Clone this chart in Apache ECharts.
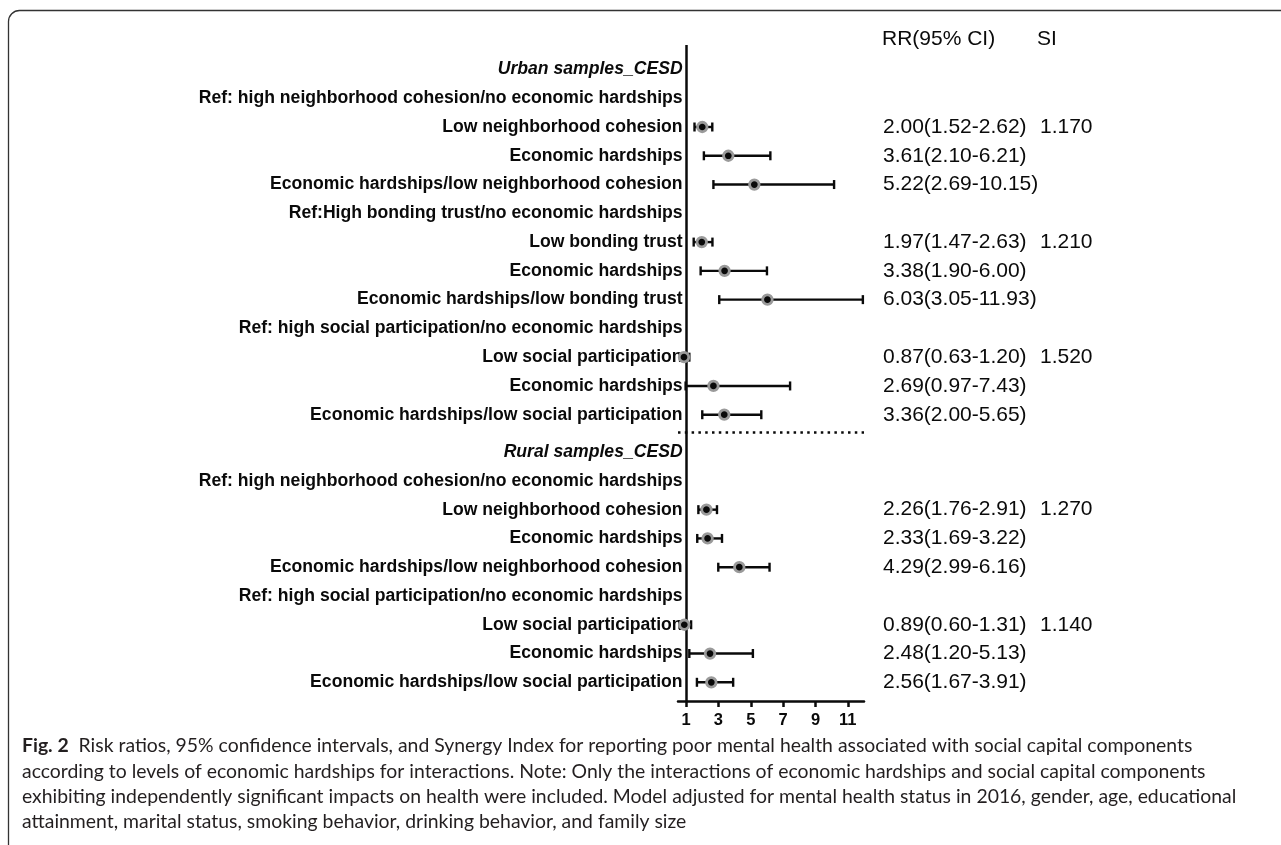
<!DOCTYPE html>
<html>
<head>
<meta charset="utf-8">
<script src="https://cdn.jsdelivr.net/npm/echarts@6/dist/echarts.min.js"></script>
<style>
  html, body { margin: 0; padding: 0; background: #ffffff; }
  #chart { width: 1281px; height: 845px; }
</style>
</head>
<body>
<div id="chart"></div>
<script>
// Row labels, top to bottom
const rowLabels = [
  'Urban samples_CESD',
  'Ref: high neighborhood cohesion/no economic hardships',
  'Low neighborhood cohesion',
  'Economic hardships',
  'Economic hardships/low neighborhood cohesion',
  'Ref:High bonding trust/no economic hardships',
  'Low bonding trust',
  'Economic hardships',
  'Economic hardships/low bonding trust',
  'Ref: high social participation/no economic hardships',
  'Low social participation',
  'Economic hardships',
  'Economic hardships/low social participation',
  'Rural samples_CESD',
  'Ref: high neighborhood cohesion/no economic hardships',
  'Low neighborhood cohesion',
  'Economic hardships',
  'Economic hardships/low neighborhood cohesion',
  'Ref: high social participation/no economic hardships',
  'Low social participation',
  'Economic hardships',
  'Economic hardships/low social participation'
];
// Section headers (bold italic)
const headerRows = [0, 13];

// Risk ratios and 95% confidence limits (null = reference / header row)
const riskRatio = [null, null, 2.00, 3.61, 5.22, null, 1.97, 3.38, 6.03, null, 0.87, 2.69, 3.36,
                   null, null, 2.26, 2.33, 4.29, null, 0.89, 2.48, 2.56];
const ciLow     = [null, null, 1.52, 2.10, 2.69, null, 1.47, 1.90, 3.05, null, 0.63, 0.97, 2.00,
                   null, null, 1.76, 1.69, 2.99, null, 0.60, 1.20, 1.67];
const ciHigh    = [null, null, 2.62, 6.21, 10.15, null, 2.63, 6.00, 11.93, null, 1.20, 7.43, 5.65,
                   null, null, 2.91, 3.22, 6.16, null, 1.31, 5.13, 3.91];
// Synergy index
const synergyIndex = [null, null, '1.170', null, null, null, '1.210', null, null, null, '1.520', null, null,
                      null, null, '1.270', null, null, null, '1.140', null, null];

const xTicks = [1, 3, 5, 7, 9, 11];
const columnHeaders = ['RR(95% CI)', 'SI'];

const captionLead = 'Fig. 2';
const captionLines = [
  'Risk ratios, 95% confidence intervals, and Synergy Index for reporting poor mental health associated with social capital components',
  'according to levels of economic hardships for interactions. Note: Only the interactions of economic hardships and social capital components',
  'exhibiting independently significant impacts on health were included. Model adjusted for mental health status in 2016, gender, age, educational',
  'attainment, marital status, smoking behavior, drinking behavior, and family size'
];

// ---- layout helpers ----
const SECTION_GAP = 0.3;            // extra space before the rural block
const rowPos = i => i + (i >= 13 ? SECTION_GAP : 0);
const DIVIDER = 12.62;              // dotted separator between the blocks
const Y_MIN = -0.85, Y_MAX = 21.95;
const FONT = '"Liberation Sans", Arial, Helvetica, sans-serif';
const CAPTION_FONT = 'Lato, "Open Sans", sans-serif';
const CAPTION_SIZE = 19.4;
const INK = '#0a0a0a';

const posKey = v => Number(v).toFixed(2);
const rrText = {}, siText = {};
const rrRows = [], siRows = [];
rowLabels.forEach((_, i) => {
  if (riskRatio[i] != null) {
    rrText[posKey(rowPos(i))] = riskRatio[i].toFixed(2) + '(' + ciLow[i].toFixed(2) + '-' + ciHigh[i].toFixed(2) + ')';
    rrRows.push(rowPos(i));
  }
  if (synergyIndex[i] != null) {
    siText[posKey(rowPos(i))] = synergyIndex[i];
    siRows.push(rowPos(i));
  }
});

// Row labels are anchored to the reference line at RR = 1
const labelData = rowLabels.map((name, i) => [1, rowPos(i), i]);
const pointData = [], barData = [];
rowLabels.forEach((_, i) => {
  if (riskRatio[i] == null) return;
  pointData.push([riskRatio[i], rowPos(i)]);
  barData.push([rowPos(i), ciLow[i], ciHigh[i]]);
});

const chart = echarts.init(document.getElementById('chart'), null, { renderer: 'canvas' });

const columnAxis = (offset, rows, texts) => ({
  type: 'value', position: 'right', offset: offset,
  min: Y_MIN, max: Y_MAX, inverse: true,
  axisLine: { show: false }, axisTick: { show: false }, splitLine: { show: false },
  axisLabel: {
    customValues: rows, margin: 0, align: 'left',
    fontFamily: FONT, fontSize: 21, color: INK,
    formatter: v => texts[posKey(v)] || ''
  }
});

chart.setOption({
  animation: false,
  backgroundColor: '#ffffff',
  grid: { left: 678, right: 417, top: 45, bottom: 144, containLabel: false },
  xAxis: {
    type: 'value', min: 0.5, max: 12, position: 'bottom',
    axisLine: { show: true, onZero: false, lineStyle: { color: INK, width: 2.5 } },
    axisTick: { show: true, customValues: xTicks, length: 6, lineStyle: { color: INK, width: 2.5 } },
    axisLabel: { customValues: xTicks, margin: 11, fontFamily: FONT, fontWeight: 'bold', fontSize: 16.5, color: INK },
    splitLine: { show: false }
  },
  yAxis: [
    { type: 'value', min: Y_MIN, max: Y_MAX, inverse: true, show: false },
    columnAxis(19, rrRows, rrText),
    columnAxis(176, siRows, siText)
  ],
  series: [
    {
      // row labels, right-aligned just left of the RR = 1 line
      name: 'rows', type: 'custom', yAxisIndex: 0, silent: true, z: 3,
      encode: { x: 0, y: 1 },
      renderItem: (params, api) => {
        const p = api.coord([api.value(0), api.value(1)]);
        const i = api.value(2);
        const italic = headerRows.includes(i);
        return {
          type: 'text',
          x: p[0] - 3.5, y: p[1],
          style: {
            text: rowLabels[i],
            font: (italic ? 'italic ' : '') + 'bold 17.6px ' + FONT,
            fill: INK, align: 'right', verticalAlign: 'middle'
          }
        };
      },
      data: labelData,
      markLine: {
        silent: true, symbol: 'none', label: { show: false },
        data: [
          { xAxis: 1, lineStyle: { color: INK, width: 2.5, type: 'solid' } },
          { yAxis: DIVIDER, lineStyle: { color: INK, width: 2.5, type: [2.5, 4.3] } }
        ]
      }
    },
    {
      name: 'ci', type: 'custom', yAxisIndex: 0, silent: true, z: 4,
      encode: { x: [1, 2], y: 0 },
      renderItem: (params, api) => {
        const y = api.value(0);
        const a = api.coord([api.value(1), y]);
        const b = api.coord([api.value(2), y]);
        const cap = 4.5;
        const style = { stroke: INK, lineWidth: 2.4 };
        return {
          type: 'group',
          children: [
            { type: 'line', shape: { x1: a[0], y1: a[1], x2: b[0], y2: b[1] }, style },
            { type: 'line', shape: { x1: a[0], y1: a[1] - cap, x2: a[0], y2: a[1] + cap }, style },
            { type: 'line', shape: { x1: b[0], y1: b[1] - cap, x2: b[0], y2: b[1] + cap }, style }
          ]
        };
      },
      data: barData
    },
    {
      name: 'RR', type: 'scatter', yAxisIndex: 0, silent: true, z: 5,
      symbol: 'circle', symbolSize: 9.5,
      itemStyle: { color: INK, borderColor: '#9a9a9a', borderWidth: 2.8, opacity: 1 },
      data: pointData
    }
  ],
  graphic: [
    // figure frame
    {
      type: 'rect', silent: true, z: -1,
      shape: { x: 8.5, y: 10.5, width: 1400, height: 1000, r: [11, 0, 0, 0] },
      style: { fill: 'none', stroke: '#333', lineWidth: 1.3 }
    },
    {
      type: 'text', left: 882, top: 29, silent: true,
      style: { text: columnHeaders[0], font: '21px ' + FONT, fill: INK }
    },
    {
      type: 'text', left: 1037, top: 29, silent: true,
      style: { text: columnHeaders[1], font: '21px ' + FONT, fill: INK }
    },
    ...captionLines.map((line, k) => ({
      type: 'text', left: 22, top: 736.5 + k * 25.4, silent: true,
      style: {
        text: k === 0 ? '{b|' + captionLead + '}  ' + line : line,
        font: CAPTION_SIZE + 'px ' + CAPTION_FONT, fill: '#231f20',
        rich: { b: { font: 'bold ' + CAPTION_SIZE + 'px ' + CAPTION_FONT, fill: '#231f20' } }
      }
    }))
  ]
});
</script>
</body>
</html>
